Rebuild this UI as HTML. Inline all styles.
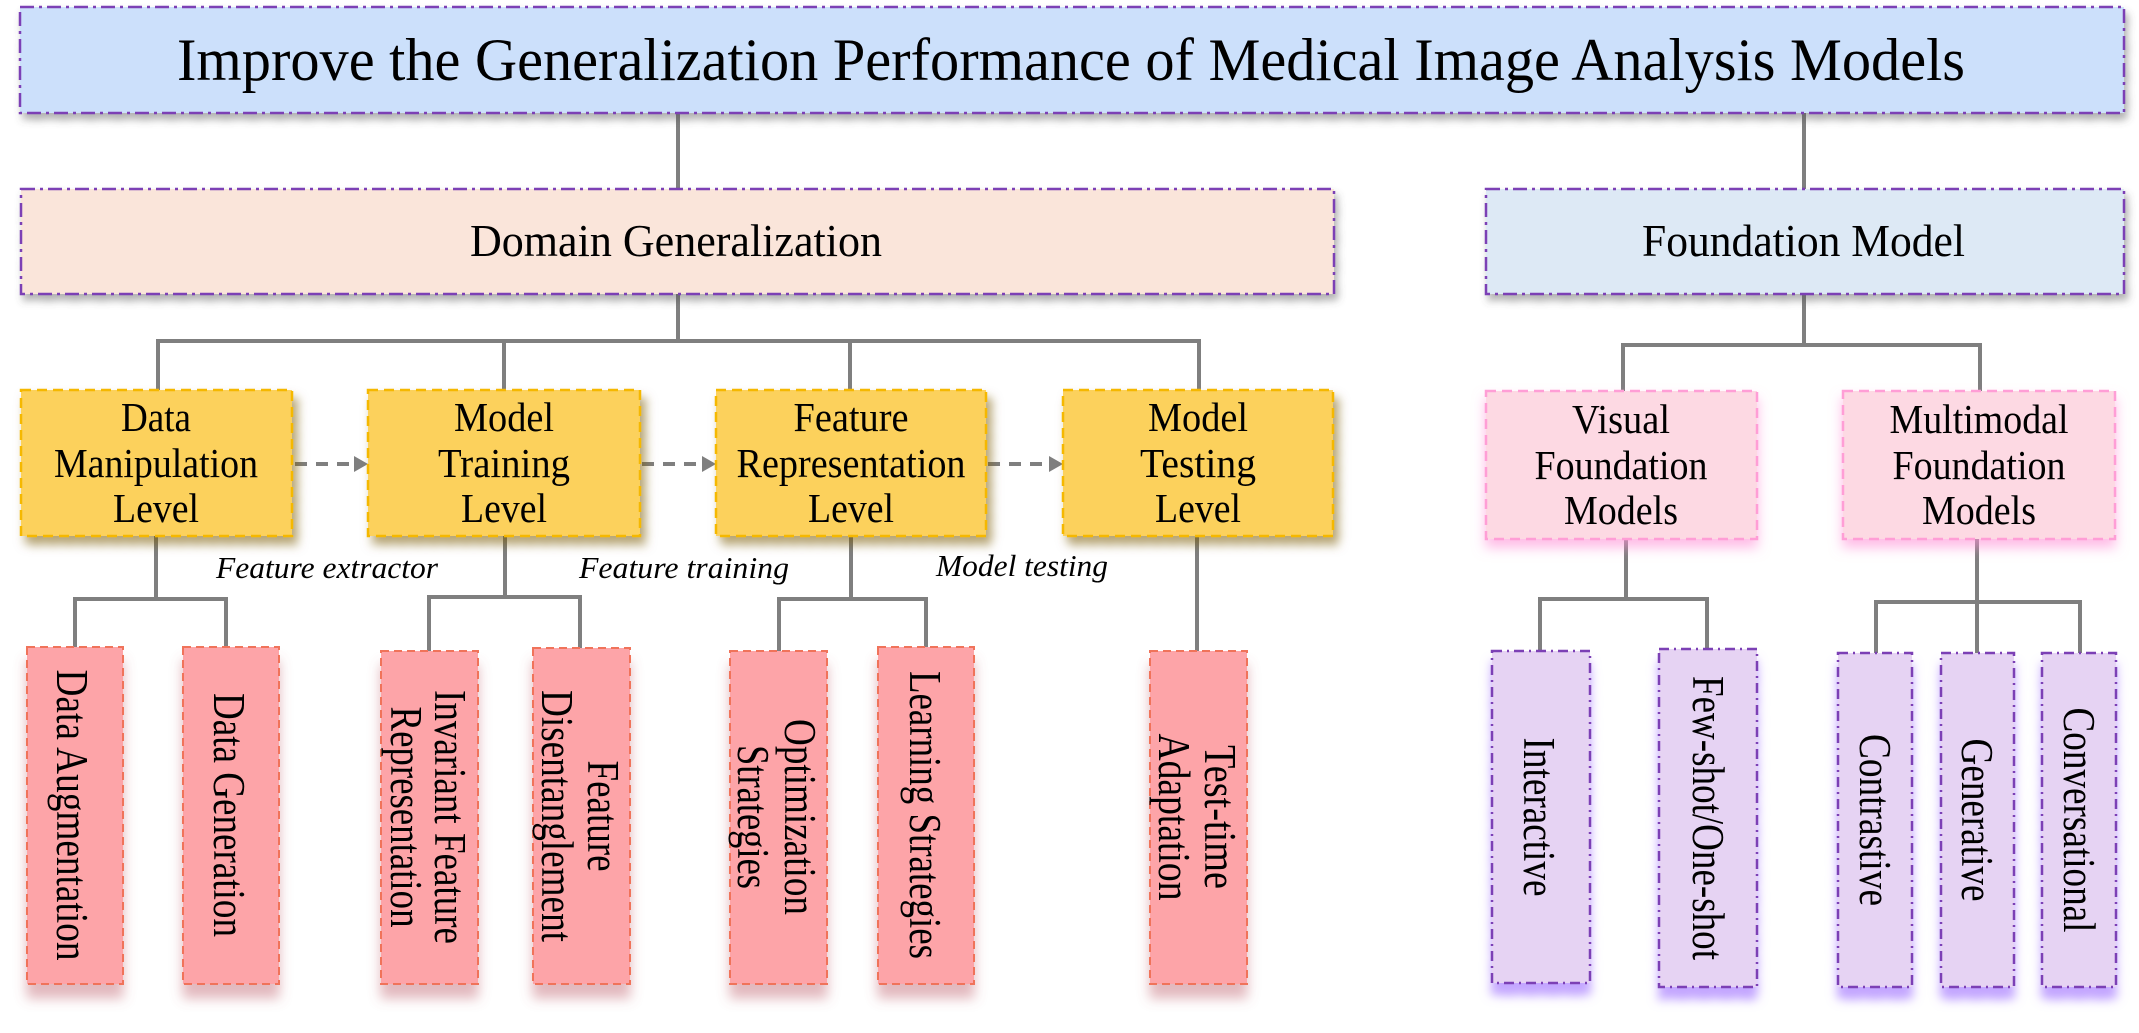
<!DOCTYPE html>
<html><head><meta charset="utf-8"><style>
html,body{margin:0;padding:0;background:#fff;}
svg{display:block;}
text{font-family:"Liberation Serif",serif;fill:#000;}
</style></head><body>
<svg width="2139" height="1033" viewBox="0 0 2139 1033" xmlns="http://www.w3.org/2000/svg">
<defs>
<filter id="sh" x="-20%" y="-20%" width="150%" height="150%"><feDropShadow dx="5" dy="8" stdDeviation="5" flood-color="#7a5a00" flood-opacity="0.55"/></filter>
<filter id="shg" x="-20%" y="-20%" width="150%" height="150%"><feDropShadow dx="3" dy="6" stdDeviation="4" flood-color="#555" flood-opacity="0.45"/></filter>
<filter id="shp" x="-20%" y="-20%" width="150%" height="150%"><feDropShadow dx="0" dy="8" stdDeviation="6" flood-color="#ff8fd6" flood-opacity="0.6"/></filter>
<filter id="shr" x="-20%" y="-20%" width="150%" height="150%"><feDropShadow dx="0" dy="14" stdDeviation="6" flood-color="#c06070" flood-opacity="0.45"/></filter>
<filter id="shv" x="-20%" y="-20%" width="150%" height="150%"><feDropShadow dx="0" dy="12" stdDeviation="5" flood-color="#9b6bff" flood-opacity="0.6"/></filter>
</defs>
<g stroke="#7f7f7f" stroke-width="4" fill="none">
<path d="M678 113V189M1804 113V189"/>
<path d="M678 294V341M158 390V341H1199V390M504 341V390M850 341V390"/>
<path d="M1804 294V345M1623 391V345H1980V391"/>
<path d="M156 536V599M75 647V599H226V647"/>
<path d="M505 536V597M429 651V597H580V648"/>
<path d="M851 536V599M779 651V599H926V647"/>
<path d="M1197 536V651"/>
<path d="M1626 539V599M1540 651V599H1707V649"/>
<path d="M1977 539V653M1876 653V602H2080V653"/>
</g>
<g stroke="#7f7f7f" stroke-width="4" stroke-dasharray="12 9">
<line x1="295" y1="464" x2="355" y2="464"/><line x1="642" y1="464" x2="703" y2="464"/><line x1="988" y1="464" x2="1050" y2="464"/>
</g>
<g fill="#7f7f7f"><path d="M368 464l-14-8v16z"/><path d="M716 464l-14-8v16z"/><path d="M1063 464l-14-8v16z"/></g>
<g stroke="#7b3fb5" stroke-width="2.5" stroke-dasharray="14 5 3 5" filter="url(#shg)">
<rect x="20" y="7" width="2104" height="106" fill="#cce0fb"/>
<rect x="21" y="189" width="1313" height="105" fill="#fae5da"/>
<rect x="1486" y="189" width="638" height="105" fill="#dde9f5"/>
</g>
<text x="177" y="80" font-size="60" textLength="1788" lengthAdjust="spacingAndGlyphs">Improve the Generalization Performance of Medical Image Analysis Models</text>
<text x="470" y="256" font-size="46" textLength="412" lengthAdjust="spacingAndGlyphs">Domain Generalization</text>
<text x="1642" y="256" font-size="46" textLength="323" lengthAdjust="spacingAndGlyphs">Foundation Model</text>
<g fill="#fcd15c" stroke="#f5b800" stroke-width="2.5" stroke-dasharray="10 6" filter="url(#sh)">
<rect x="21" y="390" width="271" height="146"/><rect x="368" y="390" width="272" height="146"/><rect x="716" y="390" width="270" height="146"/><rect x="1063" y="390" width="270" height="146"/>
</g>
<g fill="#fdd9e3" stroke="#ff9ed6" stroke-width="2.5" stroke-dasharray="10 6" filter="url(#shp)">
<rect x="1486" y="391" width="271" height="148"/><rect x="1843" y="391" width="272" height="148"/>
</g>
<g font-size="41" text-anchor="middle">
<text x="156" y="431" textLength="70" lengthAdjust="spacingAndGlyphs">Data</text><text x="156" y="477" textLength="204" lengthAdjust="spacingAndGlyphs">Manipulation</text><text x="156" y="522" textLength="86" lengthAdjust="spacingAndGlyphs">Level</text>
<text x="504" y="431" textLength="100" lengthAdjust="spacingAndGlyphs">Model</text><text x="504" y="477" textLength="132" lengthAdjust="spacingAndGlyphs">Training</text><text x="504" y="522" textLength="86" lengthAdjust="spacingAndGlyphs">Level</text>
<text x="851" y="431" textLength="115" lengthAdjust="spacingAndGlyphs">Feature</text><text x="851" y="477" textLength="229" lengthAdjust="spacingAndGlyphs">Representation</text><text x="851" y="522" textLength="86" lengthAdjust="spacingAndGlyphs">Level</text>
<text x="1198" y="431" textLength="100" lengthAdjust="spacingAndGlyphs">Model</text><text x="1198" y="477" textLength="116" lengthAdjust="spacingAndGlyphs">Testing</text><text x="1198" y="522" textLength="86" lengthAdjust="spacingAndGlyphs">Level</text>
<text x="1621" y="433" textLength="98" lengthAdjust="spacingAndGlyphs">Visual</text><text x="1621" y="479" textLength="173" lengthAdjust="spacingAndGlyphs">Foundation</text><text x="1621" y="524" textLength="114" lengthAdjust="spacingAndGlyphs">Models</text>
<text x="1979" y="433" textLength="179" lengthAdjust="spacingAndGlyphs">Multimodal</text><text x="1979" y="479" textLength="173" lengthAdjust="spacingAndGlyphs">Foundation</text><text x="1979" y="524" textLength="114" lengthAdjust="spacingAndGlyphs">Models</text>
</g>
<g font-size="31" font-style="italic">
<text x="216" y="578" textLength="222" lengthAdjust="spacingAndGlyphs">Feature extractor</text>
<text x="579" y="578" textLength="210" lengthAdjust="spacingAndGlyphs">Feature training</text>
<text x="936" y="576" textLength="172" lengthAdjust="spacingAndGlyphs">Model testing</text>
</g>
<g fill="#fda4a8" stroke="#f0735a" stroke-width="2" stroke-dasharray="8 5" filter="url(#shr)">
<rect x="27" y="647" width="96" height="337"/><rect x="183" y="647" width="96" height="337"/>
<rect x="381" y="651" width="97" height="333"/><rect x="533" y="648" width="97" height="336"/>
<rect x="730" y="651" width="97" height="333"/><rect x="878" y="647" width="96" height="337"/>
<rect x="1150" y="651" width="97" height="333"/>
</g>
<g fill="#e6d3f3" stroke="#7b3fb5" stroke-width="2.5" stroke-dasharray="10 5 2 5" filter="url(#shv)">
<rect x="1492" y="651" width="98" height="332"/><rect x="1659" y="649" width="98" height="338"/>
<rect x="1838" y="653" width="74" height="334"/><rect x="1941" y="653" width="73" height="334"/><rect x="2042" y="653" width="74" height="334"/>
</g>
<g font-size="45" text-anchor="middle" dominant-baseline="central">
<text transform="translate(72,815) rotate(90)" textLength="291" lengthAdjust="spacingAndGlyphs">Data Augmentation</text>
<text transform="translate(229,815) rotate(90)" textLength="244" lengthAdjust="spacingAndGlyphs">Data Generation</text>
<text transform="translate(450,817) rotate(90)" textLength="254" lengthAdjust="spacingAndGlyphs">Invariant Feature</text>
<text transform="translate(406,817) rotate(90)" textLength="221" lengthAdjust="spacingAndGlyphs">Representation</text>
<text transform="translate(603,816) rotate(90)" textLength="111" lengthAdjust="spacingAndGlyphs">Feature</text>
<text transform="translate(557,816) rotate(90)" textLength="252" lengthAdjust="spacingAndGlyphs">Disentanglement</text>
<text transform="translate(800,817) rotate(90)" textLength="196" lengthAdjust="spacingAndGlyphs">Optimization</text>
<text transform="translate(753,817) rotate(90)" textLength="144" lengthAdjust="spacingAndGlyphs">Strategies</text>
<text transform="translate(925,815) rotate(90)" textLength="288" lengthAdjust="spacingAndGlyphs">Learning Strategies</text>
<text transform="translate(1220,817) rotate(90)" textLength="144" lengthAdjust="spacingAndGlyphs">Test-time</text>
<text transform="translate(1174,817) rotate(90)" textLength="167" lengthAdjust="spacingAndGlyphs">Adaptation</text>
<text transform="translate(1539,817) rotate(90)" textLength="159" lengthAdjust="spacingAndGlyphs">Interactive</text>
<text transform="translate(1708,818) rotate(90)" textLength="284" lengthAdjust="spacingAndGlyphs">Few-shot/One-shot</text>
<text transform="translate(1875,820) rotate(90)" textLength="172" lengthAdjust="spacingAndGlyphs">Contrastive</text>
<text transform="translate(1977,820) rotate(90)" textLength="163" lengthAdjust="spacingAndGlyphs">Generative</text>
<text transform="translate(2079,820) rotate(90)" textLength="225" lengthAdjust="spacingAndGlyphs">Conversational</text>
</g>
</svg>
</body></html>
